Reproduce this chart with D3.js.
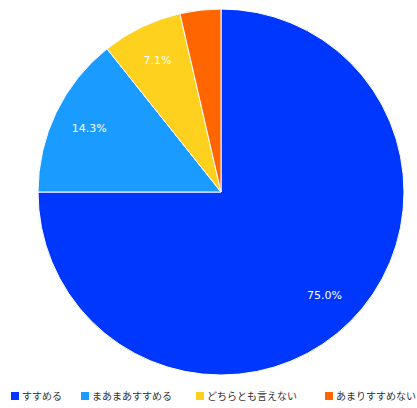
<!DOCTYPE html>
<html><head><meta charset="utf-8">
<script src="https://cdn.jsdelivr.net/npm/d3@7"></script>
<style>body{margin:0;background:#fff;}</style>
</head><body>
<svg id="c" width="417" height="408"></svg>
<script>
const categories = ["すすめる","まあまあすすめる","どちらとも言えない","あまりすすめない"];
const values = [75.0, 14.3, 7.1, 3.6];
const labels = ["75.0%","14.3%","7.1%",""];
const colors = ["#0037FF","#1A9BFF","#FDD11D","#FF6600"];

const svg = d3.select("#c");
const cx = 221, cy = 192, r = 183;
const pie = d3.pie().sort(null).value(d => d)(values);
const arc = d3.arc().innerRadius(0).outerRadius(r);
const labelArc = d3.arc().innerRadius(r*0.8).outerRadius(r*0.8);
const g = svg.append("g").attr("transform", `translate(${cx},${cy})`);
g.selectAll("path").data(pie).join("path")
  .attr("d", arc).attr("fill", (d,i) => colors[i])
  .attr("stroke", "#fff").attr("stroke-width", 1);
g.selectAll("text").data(pie).join("text")
  .attr("transform", d => `translate(${labelArc.centroid(d)})`)
  .attr("text-anchor", "middle").attr("dy", "0.35em")
  .attr("fill", "#fff").attr("font-family", "DejaVu Sans, Verdana, sans-serif")
  .attr("font-size", 11)
  .text((d,i) => labels[i]);

const legendX = [11, 81, 196, 325];
const lg = svg.append("g");
categories.forEach((c, i) => {
  lg.append("rect").attr("x", legendX[i]).attr("y", 392).attr("width", 8).attr("height", 8).attr("fill", colors[i]);
  lg.append("text").attr("x", legendX[i] + 11).attr("y", 396).attr("dy", "0.35em")
    .attr("font-family", "Noto Sans CJK JP, sans-serif").attr("font-size", 10).attr("fill", "#333")
    .text(c);
});
</script>
</body></html>
